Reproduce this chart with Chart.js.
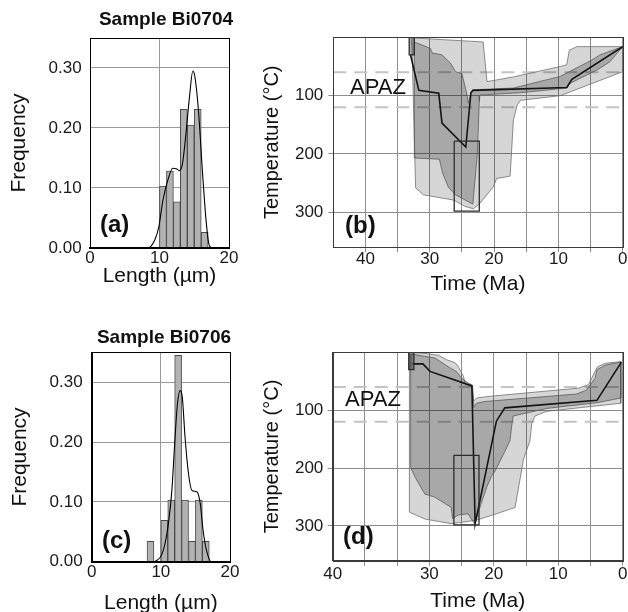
<!DOCTYPE html>
<html>
<head>
<meta charset="utf-8">
<title>Track lengths and thermal histories</title>
<script src="https://cdn.jsdelivr.net/npm/chart.js@4.4.1/dist/chart.umd.min.js"></script>
<style>
  html, body { margin: 0; padding: 0; background: #fff; }
  body { position: relative; width: 628px; height: 612px; overflow: hidden; }
  canvas { position: absolute; }
</style>
</head>
<body>
<canvas id="histA" width="245" height="300" style="left:0;top:0"></canvas>
<canvas id="pathB" width="378" height="300" style="left:250px;top:0"></canvas>
<canvas id="histC" width="245" height="310" style="left:0;top:310px"></canvas>
<canvas id="pathD" width="378" height="300" style="left:250px;top:315px"></canvas>
<script>
// ---- values ----

// track length histograms: bin centres (µm) and relative frequency
const binsA = [10.5, 11.5, 12.5, 13.5, 14.5, 15.5, 16.5];
const freqA = [0.103, 0.128, 0.077, 0.231, 0.205, 0.231, 0.026];
const binsC = [8.5, 10.5, 11.5, 12.5, 13.5, 14.5, 15.5, 16.5];
const freqC = [0.034, 0.069, 0.103, 0.345, 0.103, 0.034, 0.103, 0.034];

// density curves over the histograms
const kdeLenA = [0, 8.3, 9.3, 9.9, 10.5, 11.2, 11.9, 12.4, 12.9, 13.3, 13.8, 14.3, 14.8, 15.1, 15.6, 16.2, 16.7, 17.1, 17.6, 20];
const kdeA    = [0, 0, 0.013, 0.035, 0.08, 0.113, 0.133, 0.132, 0.129, 0.14, 0.19, 0.25, 0.295, 0.285, 0.23, 0.124, 0.046, 0.007, 0, 0];
const kdeLenC = [0, 9.0, 9.4, 10.1, 10.6, 11.1, 11.6, 12.0, 12.4, 12.8, 13.1, 13.5, 14.0, 14.5, 15.2, 15.7, 16.1, 16.6, 17.3, 20];
const kdeC    = [0, 0, 0.002, 0.011, 0.03, 0.064, 0.12, 0.197, 0.264, 0.286, 0.275, 0.208, 0.147, 0.119, 0.117, 0.097, 0.053, 0.019, 0, 0];

// time-temperature envelopes, sample Bi0704 (Ma, °C)
const lightMaB = [32.8, 21.7, 21.1, 17.0, 9.7, 8.7, 8.3, 7.1, 0, 0, 9.7, 15.9, 16.4, 17.0, 17.5, 19.6, 20.1, 22.4, 23.2, 24.5, 26.3, 31.0, 32.2, 32.8];
const lightTB  = [1, 8, 76, 68, 50, 47, 22, 16, 16, 59, 100, 108, 116, 142, 238, 242, 256, 287, 294, 290, 279, 270, 258, 1];
const darkMaB  = [32.4, 29.9, 29.6, 28.1, 26.8, 26.0, 25.0, 24.2, 24.0, 23.6, 23.3, 17.0, 9.7, 4.8, 3.5, 0, 2.0, 4.0, 8.2, 8.7, 15.9, 22.2, 22.3, 22.6, 23.3, 26.0, 27.1, 28.0, 28.5, 32.3, 32.4];
const darkTB   = [8, 19, 27, 30, 44, 59, 62, 99, 113, 95, 90, 87, 67, 39, 30, 16, 42, 56, 79, 87, 95, 99, 110, 200, 286, 270, 257, 233, 209, 207, 8];
const fitMaB   = [33.0, 31.7, 28.6, 28.1, 24.4, 23.6, 23.3, 8.7, 7.9, 0];
const fitTB    = [30, 91, 96, 147, 188, 95, 91, 86, 72, 16];

// time-temperature envelopes, sample Bi0706 (Ma, °C)
const lightMaD = [33.1, 30.7, 28.6, 27.3, 26.0, 25.5, 24.7, 24.4, 23.4, 23.1, 22.7, 20.6, 6.9, 5.3, 4.3, 3.9, 2.7, 0.3, 0.3, 11.8, 13.6, 14.1, 14.4, 15.4, 16.7, 19.6, 22.7, 24.0, 26.6, 30.7, 33.1, 33.1];
const lightTD  = [0, 2, 5, 13, 18, 25, 42, 56, 58, 84, 79, 76, 62, 56, 33, 25, 19, 16, 88, 102, 110, 122, 153, 185, 268, 279, 290, 292, 296, 288, 276, 0];
const darkMaD  = [32.9, 30.7, 29.1, 27.9, 26.8, 25.8, 25.0, 24.0, 23.3, 23.1, 22.7, 21.4, 7.1, 5.6, 4.3, 4.0, 2.7, 0.3, 0.3, 4.0, 11.8, 17.0, 17.2, 17.5, 18.5, 19.8, 20.4, 21.1, 22.7, 23.0, 24.0, 25.5, 26.4, 26.6, 29.2, 30.7, 32.2, 32.9, 32.9];
const darkTD   = [3, 7, 10, 19, 27, 33, 45, 53, 57, 95, 88, 85, 72, 65, 45, 30, 22, 17, 79, 87, 97, 110, 125, 153, 176, 205, 215, 233, 286, 296, 279, 281, 287, 268, 250, 245, 216, 199, 3];
const fitMaD   = [32.6, 31.0, 29.9, 23.4, 22.9, 19.6, 18.3, 4.0, 0.2];
const fitTD    = [20, 20, 33, 58, 296, 119, 96, 83, 17];

// constraint boxes [older, younger] Ma and [top, bottom] °C
const boxMa = [[33.2, 32.4], [26.2, 22.3]];
const boxT  = [[0, 30], [178, 298]];

// apatite partial annealing zone limits (°C)
const apazT = [60, 120];

// axes
const timeMax = 45;
const tempMax = 360;
const timeTicks   = [45, 40, 35, 30, 25, 20, 15, 10, 5, 0];
const timeLabelsB = ['', '40', '', '30', '', '20', '', '10', '', '0'];
const timeLabelsD = ['40', '', '', '30', '', '20', '', '10', '', '0'];

// ---- drawing ----
const FONT = "'Liberation Sans', Arial, Helvetica, sans-serif";
Chart.defaults.font.family = FONT;
Chart.defaults.color = '#1a1a1a';

const GRID = '#8e8e8e';
const pts = (xs, ys) => xs.map((x, i) => ({ x: x, y: ys[i] }));
const rect = (m, t) => [
  { x: m[0], y: t[0] }, { x: m[1], y: t[0] }, { x: m[1], y: t[1] },
  { x: m[0], y: t[1] }, { x: m[0], y: t[0] }
];

// box round the plot area
const framePlugin = {
  id: 'frame',
  afterDatasetsDraw(chart, args, opts) {
    const a = chart.chartArea;
    const l = Math.round(a.left), t = Math.round(a.top);
    const r = Math.round(a.right), b = Math.round(a.bottom);
    const ctx = chart.ctx;
    ctx.save();
    ctx.strokeStyle = opts.color || '#000';
    ctx.lineWidth = 1;
    ctx.strokeRect(l + 0.5, t + 0.5, r - l, b - t);
    if (opts.bottomWidth) {
      ctx.lineWidth = opts.bottomWidth;
      ctx.beginPath();
      ctx.moveTo(l, b);
      ctx.lineTo(r + 1, b);
      ctx.stroke();
    }
    ctx.restore();
  }
};

// free text: sample titles, panel letters, APAZ
function textPlugin(items) {
  return {
    id: 'panelText',
    afterDraw(chart) {
      const ctx = chart.ctx;
      ctx.save();
      ctx.fillStyle = '#111';
      ctx.textBaseline = 'middle';
      items.forEach(it => {
        ctx.font = it.font;
        ctx.textAlign = it.align || 'left';
        ctx.fillText(it.text, it.x, it.y);
      });
      ctx.restore();
    }
  };
}

function histChart(id, bins, freq, kdeX, kdeY, texts, g) {
  new Chart(document.getElementById(id), {
    type: 'bar',
    data: {
      datasets: [
        {
          type: 'line',
          data: pts(kdeX, kdeY),
          borderColor: '#000',
          borderWidth: 1.1,
          pointRadius: 0,
          cubicInterpolationMode: 'monotone',
          fill: false,
          order: 0
        },
        {
          type: 'bar',
          data: pts(bins, freq),
          backgroundColor: '#b2b2b2',
          borderColor: '#4a4a4a',
          borderWidth: 1,
          barPercentage: 1,
          categoryPercentage: 1,
          order: 1
        }
      ]
    },
    options: {
      responsive: false,
      animation: false,
      devicePixelRatio: 1,
      events: [],
      layout: { padding: { left: 0, right: g.padRight, top: g.padTop, bottom: 0 } },
      plugins: {
        legend: { display: false },
        tooltip: { enabled: false },
        frame: { color: '#000', bottomWidth: 2 }
      },
      scales: {
        x: {
          type: 'linear',
          min: 0,
          max: 20,
          offset: false,
          grid: { offset: false, color: '#9a9a9a', drawTicks: false },
          border: { color: '#000', width: 2 },
          ticks: { stepSize: 10, maxRotation: 0, padding: g.xTickPad, font: { size: 17, lineHeight: 1 } },
          title: { display: true, text: 'Length (µm)', color: '#111', font: { size: 21 }, padding: { top: 0, bottom: g.xTitlePad } },
          afterFit: s => { s.height = g.xHeight; }
        },
        y: {
          type: 'linear',
          min: 0,
          max: 0.35,
          grid: { color: '#9a9a9a', drawTicks: false },
          border: { color: '#000', width: 1 },
          ticks: {
            stepSize: 0.1,
            padding: g.yTickPad,
            font: { size: 17, lineHeight: 1 },
            callback: v => (Math.abs(v * 10 - Math.round(v * 10)) < 1e-6 ? v.toFixed(2) : '')
          },
          title: { display: true, text: 'Frequency', color: '#111', font: { size: 21 }, padding: { top: g.yTitlePad, bottom: 0 } },
          afterFit: s => { s.width = g.yWidth; }
        }
      }
    },
    plugins: [framePlugin, textPlugin(texts)]
  });
}

function pathChart(id, p, texts, g) {
  const datasets = [];
  apazT.forEach(T => datasets.push({
    data: [{ x: timeMax, y: T }, { x: 0, y: T }],
    borderColor: '#c4c4c4', borderWidth: 2, borderDash: [13, 8], fill: false, order: 5
  }));
  datasets.push({
    data: pts(p.lightMa, p.lightT), fill: 'shape',
    backgroundColor: 'rgba(0,0,0,0.16)', borderColor: '#707070', borderWidth: 0.8, order: 4
  });
  datasets.push({
    data: pts(p.darkMa, p.darkT), fill: 'shape',
    backgroundColor: 'rgba(0,0,0,0.215)', borderColor: '#5a5a5a', borderWidth: 0.8, order: 3
  });
  datasets.push({
    data: pts(p.fitMa, p.fitT), fill: false,
    borderColor: '#141414', borderWidth: 1.6, order: 2
  });
  boxMa.forEach((m, i) => datasets.push({
    data: rect(m, boxT[i]), fill: i === 0 ? 'shape' : false,
    backgroundColor: 'rgba(0,0,0,0.3)', borderColor: '#2b2b2b', borderWidth: 1.3, order: 1
  }));

  new Chart(document.getElementById(id), {
    type: 'line',
    data: { datasets: datasets },
    options: {
      responsive: false,
      animation: false,
      devicePixelRatio: 1,
      events: [],
      layout: { padding: { left: 0, right: g.padRight, top: g.padTop, bottom: 0 } },
      elements: { point: { radius: 0 }, line: { tension: 0 } },
      plugins: {
        legend: { display: false },
        tooltip: { enabled: false },
        frame: { color: '#3a3a3a' }
      },
      scales: {
        x: {
          type: 'linear',
          min: 0,
          max: timeMax,
          reverse: true,
          grid: {
            color: GRID,
            tickLength: 5,
            tickColor: c => (c.tick && c.tick.value < timeMax ? GRID : 'rgba(0,0,0,0)')
          },
          border: { color: '#3a3a3a' },
          ticks: {
            stepSize: 5,
            autoSkip: false,
            maxRotation: 0,
            padding: g.xTickPad,
            font: { size: 17, lineHeight: 1 },
            callback: v => {
              const k = timeTicks.indexOf(v);
              return k < 0 ? '' : p.timeLabels[k];
            }
          },
          title: { display: true, text: 'Time (Ma)', color: '#111', font: { size: 21 }, padding: { top: 0, bottom: g.xTitlePad } },
          afterFit: s => { s.height = g.xHeight; }
        },
        y: {
          type: 'linear',
          min: 0,
          max: tempMax,
          reverse: true,
          grid: {
            color: GRID,
            tickLength: 5,
            tickColor: c => (c.tick && c.tick.value > 0 && c.tick.value % 100 === 0 ? GRID : 'rgba(0,0,0,0)')
          },
          border: { color: '#3a3a3a' },
          ticks: {
            stepSize: 100,
            padding: g.yTickPad,
            font: { size: 17, lineHeight: 1 },
            callback: v => (v > 0 && v % 100 === 0 ? String(v) : '')
          },
          title: { display: true, text: 'Temperature (°C)', color: '#111', font: { size: 20 }, padding: { top: g.yTitlePad, bottom: 0 } },
          afterFit: s => { s.width = g.yWidth; }
        }
      }
    },
    plugins: [framePlugin, textPlugin(texts)]
  });
}

const bold = s => 'bold ' + s + 'px ' + FONT;
const plain = s => s + 'px ' + FONT;

histChart('histA', binsA, freqA, kdeLenA, kdeA, [
  { text: 'Sample Bi0704', x: 166, y: 20, font: bold(19), align: 'center' },
  { text: '(a)', x: 100, y: 225, font: bold(24) }
], { padTop: 38, padRight: 16, yWidth: 90, xHeight: 52, xTickPad: 1.5, xTitlePad: 11.4, yTitlePad: 7.1, yTickPad: 8.3 });

histChart('histC', binsC, freqC, kdeLenC, kdeC, [
  { text: 'Sample Bi0706', x: 164, y: 28, font: bold(19), align: 'center' },
  { text: '(c)', x: 102, y: 231, font: bold(24) }
], { padTop: 42.3, padRight: 15, yWidth: 91.7, xHeight: 58.3, xTickPad: 1.8, xTitlePad: 4.1, yTitlePad: 7.7, yTickPad: 9 });

pathChart('pathB', {
  lightMa: lightMaB, lightT: lightTB, darkMa: darkMaB, darkT: darkTB,
  fitMa: fitMaB, fitT: fitTB, timeLabels: timeLabelsB
}, [
  { text: 'APAZ', x: 100, y: 87.5, font: plain(22) },
  { text: '(b)', x: 95, y: 226, font: bold(24) }
], { padTop: 37.3, padRight: 5.3, yWidth: 83.3, xHeight: 52.7, xTickPad: -1.5, xTitlePad: 3.4, yTitlePad: 10, yTickPad: 5 });

pathChart('pathD', {
  lightMa: lightMaD, lightT: lightTD, darkMa: darkMaD, darkT: darkTD,
  fitMa: fitMaD, fitT: fitTD, timeLabels: timeLabelsD
}, [
  { text: 'APAZ', x: 95, y: 85.3, font: plain(22) },
  { text: '(d)', x: 93, y: 222, font: bold(24) }
], { padTop: 37.3, padRight: 5.3, yWidth: 82.7, xHeight: 54.3, xTickPad: -0.2, xTitlePad: 1.1, yTitlePad: 10.2, yTickPad: 4.4 });
</script>
</body>
</html>
